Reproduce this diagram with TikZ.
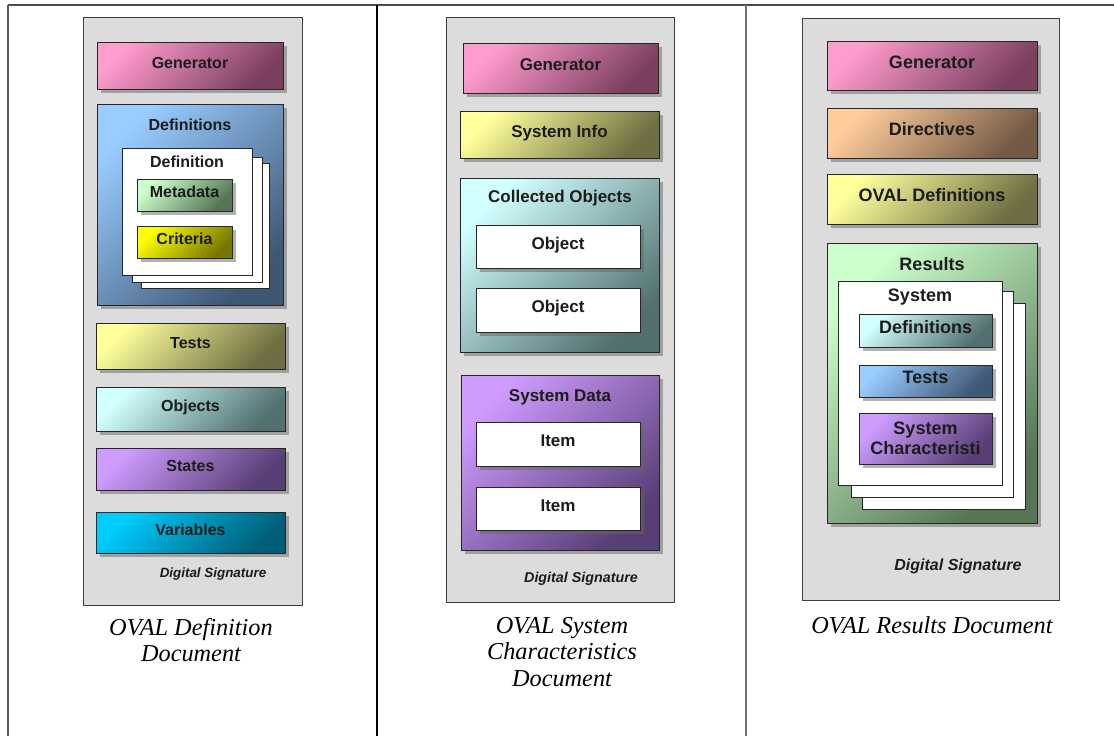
\documentclass[tikz,border=0pt]{standalone}
\usepackage{fontspec}
\setmainfont{Liberation Serif}
\setsansfont{Liberation Sans}
\usetikzlibrary{shadows}

\definecolor{panelgray}{HTML}{DCDCDC}
\definecolor{ink}{HTML}{1C1C1C}
\definecolor{pinkL}{HTML}{FF9CCE}\definecolor{pinkD}{HTML}{7A3F5E}
\definecolor{blueL}{HTML}{9ACCFF}\definecolor{blueD}{HTML}{3E5774}
\definecolor{yelL}{HTML}{FFFF9C}\definecolor{yelD}{HTML}{6E6E42}
\definecolor{cyanL}{HTML}{D2FFFF}\definecolor{cyanD}{HTML}{527070}
\definecolor{purL}{HTML}{CE9CFF}\definecolor{purD}{HTML}{573E74}
\definecolor{skyL}{HTML}{00CCFF}\definecolor{skyD}{HTML}{005E78}
\definecolor{grnL}{HTML}{CCFFCC}\definecolor{grnD}{HTML}{557555}
\definecolor{critL}{HTML}{FFFF00}\definecolor{critD}{HTML}{767600}
\definecolor{orgL}{HTML}{FFCC9C}\definecolor{orgD}{HTML}{735A45}

% a box given by its top-left and bottom-right corners (in px)
\newcommand\rbox[7]{\node[#6, minimum width={#4-#2}, minimum height={#5-#3}] (#1) at (#2,#3) {#7};}

\tikzset{
  boxbase/.style={anchor=north west, inner sep=0pt, outer sep=0pt},
  panel/.style={boxbase, draw=black!75, fill=panelgray, line width=0.9pt},
  shadetwo/.style 2 args={top color=#1, bottom color=#2, shading angle=45},
  shadowed/.style={drop shadow={shadow xshift=3.5pt, shadow yshift=-3.5pt, opacity=0.5, fill=black!60}},
  cbox/.style 2 args={boxbase, draw=black!85, line width=0.8pt, shadowed, shadetwo={#1}{#2},
     text=ink, text height=0.72em, text depth=0.2em},
  wbox/.style={boxbase, draw=black!85, line width=0.8pt, fill=white, shadowed,
     text=ink, text height=0.72em, text depth=0.2em},
  sheet/.style={boxbase, draw=black!85, line width=0.8pt, fill=white},
  ttl/.style={text=ink, inner sep=0pt},
  sigtxt/.style={text=ink, inner sep=0pt},
  captxt/.style={inner sep=0pt, align=center, font=\itshape\fontsize{24.3}{26.5}\selectfont},
  framerule/.style={line width=1.2pt},
  fA/.style={font=\sffamily\bfseries\fontsize{16}{19}\selectfont},
  fB/.style={font=\sffamily\bfseries\fontsize{17}{20}\selectfont},
  fC/.style={font=\sffamily\bfseries\fontsize{18}{21}\selectfont},
}

\begin{document}
\begin{tikzpicture}[x=1pt, y=-1pt]
\useasboundingbox (0,0) rectangle (1114,736);

% table frame
\coordinate (tl) at (8,5);
\coordinate (tr) at (1114,5);
\coordinate (bl) at (8,736);
\coordinate (s1t) at (377,5);  \coordinate (s1b) at (377,736);
\coordinate (s2t) at (746,5);  \coordinate (s2b) at (746,736);
\draw[framerule, black!70] (tl) -- (tr);
\draw[framerule, black!65] (tl) -- (bl);
\draw[framerule, black] (s1t) -- (s1b);
\draw[framerule, black!55] (s2t) -- (s2b);

% ---------------- OVAL Definition Document ----------------
\begin{scope}[fA]
\rbox{pA}{83}{17}{302}{605}{panel}{}
\rbox{genA}{97}{42}{283}{89}{cbox={pinkL}{pinkD}}{Generator}
\rbox{defsA}{97}{104}{283}{305}{cbox={blueL}{blueD}}{}
\node[ttl] (defsAt) at (190,125) {Definitions};
\rbox{pgA3}{141}{163}{269}{288}{sheet}{}
\rbox{pgA2}{132}{157}{262}{282}{sheet}{}
\rbox{pgA1}{122}{148}{252}{275}{sheet}{}
\node[ttl] (pgAt) at (187,162) {Definition};
\rbox{metaA}{137}{179}{232}{211}{cbox={grnL}{grnD}}{Metadata}
\rbox{critA}{137}{226}{232}{258}{cbox={critL}{critD}}{Criteria}
\rbox{testsA}{96}{323}{285}{369}{cbox={yelL}{yelD}}{Tests}
\rbox{objA}{96}{387}{285}{431}{cbox={cyanL}{cyanD}}{Objects}
\rbox{statesA}{96}{448}{285}{490}{cbox={purL}{purD}}{States}
\rbox{varsA}{96}{512}{285}{553}{cbox={skyL}{skyD}}{Variables}
\node[sigtxt, font=\sffamily\bfseries\itshape\fontsize{13.4}{16}\selectfont] (sigA) at (213,574) {Digital Signature};
\end{scope}
\node[captxt] (capA) at (191,640) {OVAL Definition\\Document};

% ---------------- OVAL System Characteristics Document ----------------
\begin{scope}[fB]
\rbox{pB}{446}{17}{674}{602}{panel}{}
\rbox{genB}{463}{43}{658}{93}{cbox={pinkL}{pinkD}}{Generator}
\rbox{infoB}{460}{111}{659}{158}{cbox={yelL}{yelD}}{System Info}
\rbox{collB}{460}{178}{659}{352}{cbox={cyanL}{cyanD}}{}
\node[ttl] (collBt) at (560,198) {Collected Objects};
\rbox{objB1}{476}{225}{640}{268}{wbox}{Object}
\rbox{objB2}{476}{288}{640}{332}{wbox}{Object}
\rbox{sdB}{461}{375}{659}{550}{cbox={purL}{purD}}{}
\node[ttl] (sdBt) at (560,397) {System Data};
\rbox{itemB1}{476}{422}{640}{466}{wbox}{Item}
\rbox{itemB2}{476}{487}{640}{530}{wbox}{Item}
\node[sigtxt, font=\sffamily\bfseries\itshape\fontsize{14.3}{17}\selectfont] (sigB) at (581,579) {Digital Signature};
\end{scope}
\node[captxt] (capB) at (562,652) {OVAL System\\Characteristics\\Document};

% ---------------- OVAL Results Document ----------------
\begin{scope}[fC]
\rbox{pC}{802}{18}{1059}{600}{panel}{}
\rbox{genC}{827}{41}{1037}{90}{cbox={pinkL}{pinkD}}{Generator}
\rbox{dirC}{827}{108}{1037}{158}{cbox={orgL}{orgD}}{Directives}
\rbox{odC}{827}{174}{1037}{224}{cbox={yelL}{yelD}}{OVAL Definitions}
\rbox{resC}{827}{243}{1037}{523}{cbox={grnL}{grnD}}{}
\node[ttl] (resCt) at (932,264) {Results};
\rbox{pgC3}{862}{303}{1025}{509}{sheet}{}
\rbox{pgC2}{851}{291}{1013}{497}{sheet}{}
\rbox{pgC1}{838}{281}{1002}{485}{sheet}{}
\node[ttl] (pgCt) at (920,297) {System};
\rbox{defC}{859}{314}{992}{347}{cbox={cyanL}{cyanD}}{Definitions}
\rbox{testC}{859}{365}{992}{397}{cbox={blueL}{blueD}}{Tests}
\rbox{scC}{859}{413}{992}{464}{cbox={purL}{purD}, text height=, text depth=, align=center,
   font=\sffamily\bfseries\fontsize{18}{20}\selectfont}{System\\Characteristi}
\node[sigtxt, font=\sffamily\bfseries\itshape\fontsize{16}{19}\selectfont] (sigC) at (958,566) {Digital Signature};
\end{scope}
\node[captxt] (capC) at (932,625) {OVAL Results Document};
\end{tikzpicture}
\end{document}
